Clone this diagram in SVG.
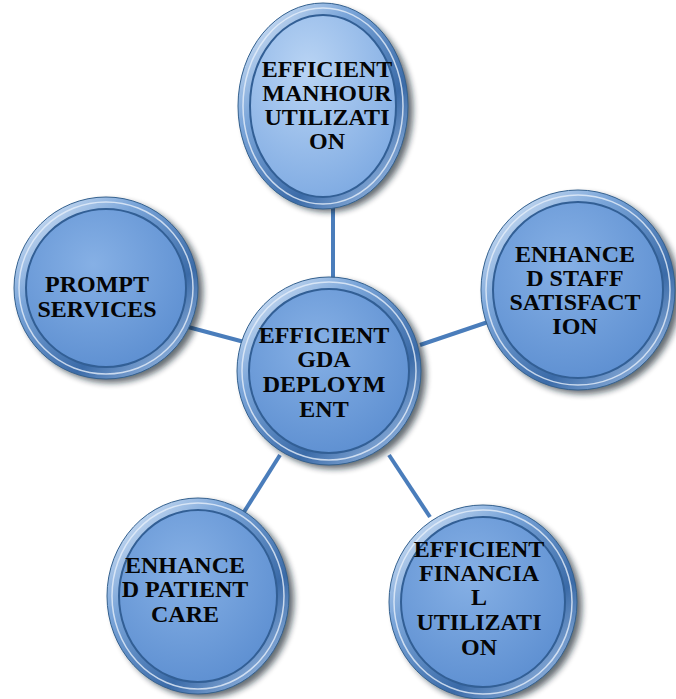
<svg xmlns="http://www.w3.org/2000/svg" width="676" height="699" viewBox="0 0 676 699">
  <defs>
    <style>
      .conn { stroke: #4a7dbb; stroke-width: 4; stroke-linecap: butt; }
      .ring { fill: url(#ringGrad); stroke: #34618f; stroke-width: 1; }
      .ringHi { fill: none; stroke: #e6effa; stroke-width: 1.5; opacity: 0.8; }
      .disk { fill: url(#diskGrad); stroke: #325f95; stroke-width: 2; }
      .diskLight { fill: url(#diskLightGrad); stroke: #325f95; stroke-width: 2; }
      .shadow { fill: #111a26; opacity: 0.65; filter: url(#blur); }
      .lbl { font-family: "Liberation Serif", "Times New Roman", serif; font-weight: bold; font-size: 24px; fill: #050505; text-anchor: middle; }
    </style>
    <linearGradient id="ringGrad" x1="0.1" y1="0.05" x2="0.9" y2="0.95">
      <stop offset="0" stop-color="#d3e3f6"/>
      <stop offset="0.3" stop-color="#7aa5d9"/>
      <stop offset="0.7" stop-color="#3b6ba8"/>
      <stop offset="1" stop-color="#9dbde6"/>
    </linearGradient>
    <radialGradient id="diskGrad" cx="0.42" cy="0.35" r="0.7">
      <stop offset="0" stop-color="#86b0e5"/>
      <stop offset="1" stop-color="#5d8fd1"/>
    </radialGradient>
    <radialGradient id="diskLightGrad" cx="0.4" cy="0.3" r="0.75">
      <stop offset="0" stop-color="#b9d4f4"/>
      <stop offset="1" stop-color="#7eaae2"/>
    </radialGradient>
    <filter id="blur" x="-20%" y="-20%" width="140%" height="140%">
      <feGaussianBlur stdDeviation="3"/>
    </filter>
  </defs>

  <g id="connectors">
    <line class="conn" x1="333" y1="205" x2="333" y2="282"/>
    <line class="conn" x1="188" y1="327" x2="248" y2="343"/>
    <line class="conn" x1="420" y1="345" x2="488" y2="322"/>
    <line class="conn" x1="280" y1="455" x2="244" y2="512"/>
    <line class="conn" x1="389" y1="455" x2="430" y2="517"/>
  </g>

  <g id="node-manhour">
    <ellipse class="shadow" cx="328" cy="110" rx="85" ry="102"/>
    <ellipse class="ring" cx="323" cy="106" rx="85" ry="103"/>
    <ellipse class="ringHi" cx="323" cy="106" rx="80" ry="98"/>
    <ellipse class="diskLight" cx="323" cy="106" rx="73" ry="91"/>
    <text class="lbl" x="327" y="77">EFFICIENT</text>
    <text class="lbl" x="327" y="101">MANHOUR</text>
    <text class="lbl" x="327" y="125">UTILIZATI</text>
    <text class="lbl" x="327" y="149">ON</text>
  </g>

  <g id="node-prompt">
    <ellipse class="shadow" cx="111" cy="292" rx="92" ry="91"/>
    <ellipse class="ring" cx="106" cy="288" rx="92" ry="91"/>
    <ellipse class="ringHi" cx="106" cy="288" rx="87" ry="86"/>
    <ellipse class="disk" cx="106" cy="288" rx="80" ry="79"/>
    <text class="lbl" x="97" y="292">PROMPT</text>
    <text class="lbl" x="97" y="317">SERVICES</text>
  </g>

  <g id="node-staff">
    <ellipse class="shadow" cx="583" cy="294" rx="97" ry="100"/>
    <ellipse class="ring" cx="578" cy="290" rx="97" ry="100"/>
    <ellipse class="ringHi" cx="578" cy="290" rx="92" ry="95"/>
    <ellipse class="disk" cx="578" cy="290" rx="85" ry="88"/>
    <text class="lbl" x="575" y="262">ENHANCE</text>
    <text class="lbl" x="575" y="286">D STAFF</text>
    <text class="lbl" x="575" y="310">SATISFACT</text>
    <text class="lbl" x="575" y="334">ION</text>
  </g>

  <g id="node-center">
    <ellipse class="shadow" cx="334" cy="375" rx="92" ry="94"/>
    <ellipse class="ring" cx="329" cy="371" rx="92" ry="94"/>
    <ellipse class="ringHi" cx="329" cy="371" rx="87" ry="89"/>
    <ellipse class="disk" cx="329" cy="371" rx="80" ry="82"/>
    <text class="lbl" x="324" y="343">EFFICIENT</text>
    <text class="lbl" x="324" y="367">GDA</text>
    <text class="lbl" x="324" y="392">DEPLOYM</text>
    <text class="lbl" x="324" y="417">ENT</text>
  </g>

  <g id="node-patient">
    <ellipse class="shadow" cx="203" cy="600" rx="91" ry="98"/>
    <ellipse class="ring" cx="198" cy="596" rx="91" ry="98"/>
    <ellipse class="ringHi" cx="198" cy="596" rx="86" ry="93"/>
    <ellipse class="disk" cx="198" cy="596" rx="79" ry="86"/>
    <text class="lbl" x="185" y="573">ENHANCE</text>
    <text class="lbl" x="185" y="597">D PATIENT</text>
    <text class="lbl" x="185" y="622">CARE</text>
  </g>

  <g id="node-financial">
    <ellipse class="shadow" cx="488" cy="606" rx="94" ry="97"/>
    <ellipse class="ring" cx="483" cy="602" rx="94" ry="97"/>
    <ellipse class="ringHi" cx="483" cy="602" rx="89" ry="92"/>
    <ellipse class="disk" cx="483" cy="602" rx="82" ry="85"/>
    <text class="lbl" x="479" y="557">EFFICIENT</text>
    <text class="lbl" x="479" y="581">FINANCIA</text>
    <text class="lbl" x="479" y="605">L</text>
    <text class="lbl" x="479" y="630">UTILIZATI</text>
    <text class="lbl" x="479" y="655">ON</text>
  </g>
</svg>
